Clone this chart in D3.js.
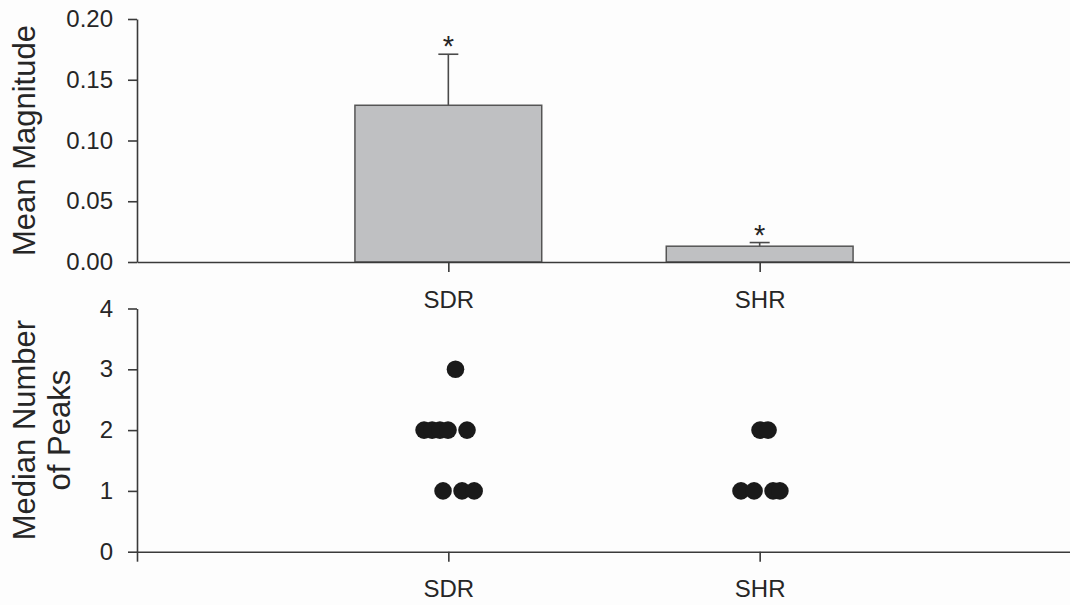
<!DOCTYPE html>
<html>
<head>
<meta charset="utf-8">
<script src="https://cdn.jsdelivr.net/npm/d3@7"></script>
<style>
  html, body { margin: 0; padding: 0; background: #fdfdfd; }
  svg { display: block; }
  text { font-family: "Liberation Sans", Arial, Helvetica, sans-serif; fill: #262626; }
</style>
</head>
<body>
<svg id="chart" width="1070" height="605"></svg>
<script>
// Group labels and their positions along the category axis
const categories = ["SDR", "SHR"];
const categoryPos = [1, 2];

// Top panel: mean magnitude with upper error (SEM) and significance marks
const meanMagnitude = [0.129, 0.013];
const magnitudeError = [0.042, 0.003];
const significance = ["*", "*"];
const magnitudeTicks = [0, 0.05, 0.10, 0.15, 0.20];

// Bottom panel: median number of peaks per animal, with horizontal jitter positions
const sdrPeaks = [3, 2, 2, 2, 2, 2, 1, 1, 1];
const sdrPeakX = [1.023, 0.922, 0.948, 0.973, 0.999, 1.060, 0.983, 1.044, 1.083];
const shrPeaks = [2, 2, 1, 1, 1, 1];
const shrPeakX = [2.001, 2.027, 1.940, 1.982, 2.043, 2.065];
const peakTicks = [0, 1, 2, 3, 4];

const svg = d3.select("#chart");
const axisColor = "#3a3a3a";
const tickFont = "24px";

// Shared horizontal scale: categories sit at 1 and 2 on a 0..3 axis
const x = d3.scaleLinear().domain([0, 3]).range([137, 1071]);
const barWidth = x(0.6) - x(0);

// ---------- Top panel ----------
const yTop = d3.scaleLinear().domain([0, 0.2]).range([262, 19]);
const topPanel = svg.append("g");

const bars = categories.map((c, i) => ({
  name: c, pos: categoryPos[i], value: meanMagnitude[i],
  err: magnitudeError[i], sig: significance[i]
}));

// Error bars (upper only), drawn behind the bars
topPanel.selectAll("line.err").data(bars).join("line")
  .attr("class", "err")
  .attr("x1", d => x(d.pos)).attr("x2", d => x(d.pos))
  .attr("y1", d => yTop(d.value)).attr("y2", d => yTop(d.value + d.err))
  .attr("stroke", "#4a4a4a").attr("stroke-width", 1.6);
topPanel.selectAll("line.cap").data(bars).join("line")
  .attr("class", "cap")
  .attr("x1", d => x(d.pos) - 10).attr("x2", d => x(d.pos) + 10)
  .attr("y1", d => yTop(d.value + d.err)).attr("y2", d => yTop(d.value + d.err))
  .attr("stroke", "#4a4a4a").attr("stroke-width", 1.6);

topPanel.selectAll("rect.bar").data(bars).join("rect")
  .attr("class", "bar")
  .attr("x", d => x(d.pos) - barWidth / 2)
  .attr("width", barWidth)
  .attr("y", d => yTop(d.value))
  .attr("height", d => yTop(0) - yTop(d.value))
  .attr("fill", "#bfc0c2")
  .attr("stroke", "#555555").attr("stroke-width", 1.5);

topPanel.selectAll("text.sig").data(bars).join("text")
  .attr("class", "sig")
  .attr("x", d => x(d.pos))
  .attr("y", d => yTop(d.value + d.err) + 2)
  .attr("text-anchor", "middle")
  .style("font-size", "29px")
  .text(d => d.sig);

// Axes of the top panel
topPanel.append("g").attr("transform", `translate(${x(0)},0)`)
  .call(d3.axisLeft(yTop).tickValues(magnitudeTicks).tickFormat(d3.format(".2f"))
    .tickSize(9).tickPadding(15).tickSizeOuter(0));
topPanel.append("g").attr("transform", `translate(0,${yTop(0)})`)
  .call(d3.axisBottom(x).tickValues(categoryPos).tickFormat((d, i) => categories[i])
    .tickSize(10).tickPadding(18.5).tickSizeOuter(0));

topPanel.append("text")
  .attr("transform", `translate(35,${(yTop(0) + yTop(0.2)) / 2}) rotate(-90)`)
  .attr("text-anchor", "middle")
  .style("font-size", "31px")
  .text("Mean Magnitude");

// ---------- Bottom panel ----------
const yBot = d3.scaleLinear().domain([0, 4]).range([551.7, 308.5]);
const botPanel = svg.append("g");

botPanel.append("g").attr("transform", `translate(${x(0)},0)`)
  .call(d3.axisLeft(yBot).tickValues(peakTicks).tickFormat(d3.format("d"))
    .tickSize(9).tickPadding(15).tickSizeOuter(0));
botPanel.append("g").attr("transform", `translate(0,${yBot(0)})`)
  .call(d3.axisBottom(x).tickValues([0].concat(categoryPos))
    .tickFormat(d => d === 0 ? "" : categories[categoryPos.indexOf(d)])
    .tickSize(10).tickPadding(18.5).tickSizeOuter(0));

const points = sdrPeaks.map((v, i) => ({ x: sdrPeakX[i], v }))
  .concat(shrPeaks.map((v, i) => ({ x: shrPeakX[i], v })));
botPanel.selectAll("circle.pt").data(points).join("circle")
  .attr("class", "pt")
  .attr("cx", d => x(d.x))
  .attr("cy", d => yBot(d.v))
  .attr("r", 8.8)
  .attr("fill", "#1a1a1a");

const botTitle = botPanel.append("text")
  .attr("transform", `translate(35,${(yBot(0) + yBot(4)) / 2}) rotate(-90)`)
  .attr("text-anchor", "middle")
  .style("font-size", "31px");
botTitle.append("tspan").attr("x", 0).attr("dy", 0).text("Median Number");
botTitle.append("tspan").attr("x", 0).attr("dy", 35).text("of Peaks");

// Common axis styling
svg.selectAll(".domain, .tick line")
  .attr("stroke", axisColor).attr("stroke-width", 1.6);
svg.selectAll(".tick text")
  .style("font-size", tickFont)
  .attr("fill", "#262626")
  .style("font-family", "'Liberation Sans', Arial, Helvetica, sans-serif");
</script>
</body>
</html>
